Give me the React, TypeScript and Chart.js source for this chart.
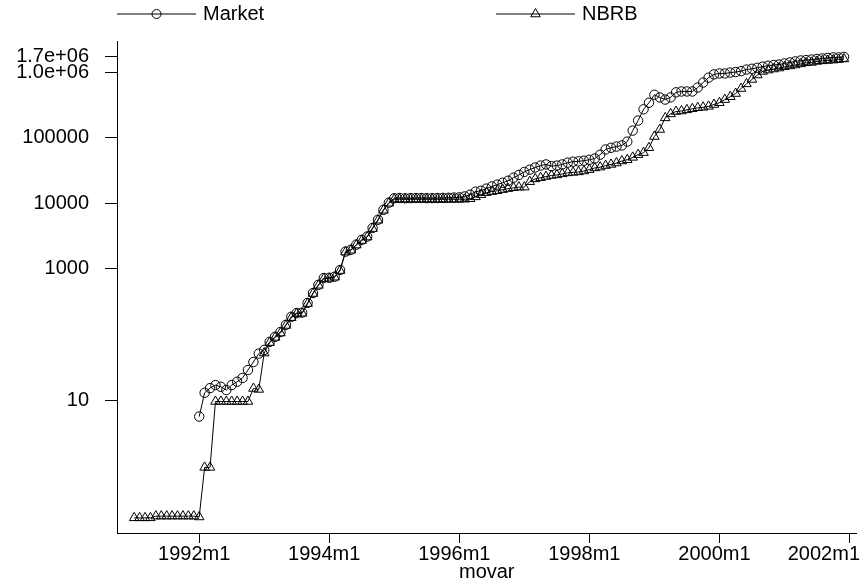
import React, { useEffect, useRef } from 'react';
import { Chart, registerables } from 'chart.js';

Chart.register(...registerables);

// month index 0 = 1991m1, 131 = 2001m12
const START_YEAR = 1991;

const market: (number | null)[] = [
  null, null, null, null, null, null, null, null, null, null, null, null,
  5.6, 12.9, 15.2, 16.9, 15.9, 14.2, 16.9, 19, 21.7, 28.7, 38, 51,
  58, 77, 92, 109, 140, 186, 212, 215, 302, 428, 570, 725,
  730, 760, 960, 1830, 1950, 2340, 2770, 3100, 4200, 5600, 7950, 10200,
  11900, 12000, 11900, 11950, 12000, 12000, 11950, 11950, 12000, 12050, 12100, 12200,
  12300, 12700, 13500, 15000, 15500, 16700, 18000, 19200, 20500, 22000, 24500, 27000,
  30000, 32500, 35000, 37500, 39000, 36700, 37500, 39000, 41500, 43000, 43500, 44500,
  46000, 48000, 55000, 66000, 70000, 73000, 76000, 87000, 128000, 182000, 270000, 340000,
  450000, 410000, 380000, 410000, 490000, 505000, 505000, 505000, 580000, 690000, 820000, 920000,
  950000, 950000, 980000, 1000000, 1030000, 1090000, 1120000, 1160000, 1210000, 1250000, 1280000, 1300000,
  1350000, 1400000, 1450000, 1500000, 1520000, 1550000, 1580000, 1610000, 1640000, 1670000, 1670000, 1700000,
];

const nbrb: number[] = [
  0.16, 0.16, 0.16, 0.16, 0.17, 0.17, 0.17, 0.17, 0.17, 0.17, 0.17, 0.17,
  0.165, 0.94, 0.94, 9.5, 9.5, 9.5, 9.5, 9.5, 9.5, 9.5, 15, 14.5,
  52, 75, 90, 105, 137, 180, 208, 210, 295, 420, 560, 710,
  715, 745, 940, 1800, 1920, 2300, 2700, 3050, 4100, 5500, 7800, 10000,
  11500, 11500, 11500, 11500, 11500, 11500, 11500, 11500, 11500, 11500, 11500, 11500,
  11500, 11500, 11700, 12500, 13500, 14500, 15000, 15500, 16100, 16700, 17200, 17600,
  17600, 21300, 23500, 24500, 25500, 26500, 27000, 28000, 29000, 29500, 30000, 31000,
  32500, 34500, 35500, 37500, 39000, 41000, 44000, 46000, 50000, 55000, 59000, 70000,
  104000, 133000, 200000, 230000, 250000, 255000, 265000, 275000, 285000, 290000, 300000, 320000,
  340000, 380000, 420000, 470000, 560000, 660000, 770000, 900000, 1020000, 1070000, 1110000, 1150000,
  1200000, 1240000, 1280000, 1330000, 1380000, 1400000, 1450000, 1480000, 1500000, 1520000, 1550000, 1580000,
];

const seriesNames = ['Market', 'NBRB'];
const seriesMarkers = ['circle', 'triangle'];
const xTickMonths = [12, 36, 60, 84, 108, 132];
const xTickLabels = ['1992m1', '1994m1', '1996m1', '1998m1', '2000m1', '2002m1'];
const yTickValues = [10, 1000, 10000, 100000, 1000000, 1700000];
const yTickLabels = ['10', '1000', '10000', '100000', '1.0e+06', '1.7e+06'];
const xTitle = 'movar';

const FONT = '"Liberation Sans", Arial, sans-serif';
const W = 863;
const H = 586;

function drawMarker(ctx: CanvasRenderingContext2D, style: string, x: number, y: number, r: number) {
  ctx.beginPath();
  if (style === 'circle') {
    ctx.arc(x, y, r, 0, Math.PI * 2);
  } else {
    ctx.moveTo(x, y - r);
    ctx.lineTo(x + 0.866 * r, y + 0.5 * r);
    ctx.lineTo(x - 0.866 * r, y + 0.5 * r);
    ctx.closePath();
  }
  ctx.stroke();
}

const stataLegend = {
  id: 'stataLegend',
  afterDraw(chart: any) {
    const ctx: CanvasRenderingContext2D = chart.ctx;
    const y = 14;
    const starts = [117, 496];
    ctx.save();
    ctx.strokeStyle = '#000';
    ctx.fillStyle = '#000';
    ctx.lineWidth = 1;
    ctx.font = `20px ${FONT}`;
    ctx.textBaseline = 'middle';
    ctx.textAlign = 'left';
    seriesNames.forEach((name, i) => {
      const x0 = starts[i];
      const len = 79;
      ctx.beginPath();
      ctx.moveTo(x0, y);
      ctx.lineTo(x0 + len, y);
      ctx.stroke();
      drawMarker(ctx, seriesMarkers[i], x0 + len / 2, y, i === 0 ? 4.5 : 5.5);
      ctx.fillText(name, x0 + len + 7, y);
    });
    ctx.restore();
  },
};

const xLabels = {
  id: 'xLabels',
  afterDraw(chart: any) {
    const ctx: CanvasRenderingContext2D = chart.ctx;
    const xs = chart.scales.x;
    ctx.save();
    ctx.fillStyle = '#000';
    ctx.font = `20px ${FONT}`;
    ctx.textBaseline = 'middle';
    ctx.textAlign = 'center';
    xTickMonths.forEach((m, i) => {
      const label = xTickLabels[i];
      const w = ctx.measureText(label).width;
      let cx = xs.getPixelForValue(m) - 5;
      cx = Math.min(cx, W - 3 - w / 2);
      ctx.fillText(label, cx, 554);
    });
    ctx.restore();
  },
};

export default function App() {
  const ref = useRef<HTMLCanvasElement | null>(null);

  useEffect(() => {
    if (!ref.current) return;
    const toPts = (arr: (number | null)[]) => arr.map((v, i) => ({ x: i, y: v }));
    const chart = new Chart(ref.current, {
      type: 'line',
      data: {
        datasets: [
          {
            label: seriesNames[0],
            data: toPts(market) as any,
            borderColor: '#000',
            borderWidth: 1,
            pointStyle: 'circle',
            pointRadius: 4.7,
            pointBorderWidth: 1,
            pointBorderColor: '#000',
            pointBackgroundColor: 'rgba(0,0,0,0)',
            backgroundColor: 'rgba(0,0,0,0)',
            fill: false,
            tension: 0,
            spanGaps: false,
          },
          {
            label: seriesNames[1],
            data: toPts(nbrb) as any,
            borderColor: '#000',
            borderWidth: 1,
            pointStyle: 'triangle',
            pointRadius: 5.5,
            pointBorderWidth: 1,
            pointBorderColor: '#000',
            pointBackgroundColor: 'rgba(0,0,0,0)',
            backgroundColor: 'rgba(0,0,0,0)',
            fill: false,
            tension: 0,
          },
        ],
      },
      options: {
        responsive: false,
        animation: false,
        events: [],
        layout: { padding: { top: 41, left: 0, right: 0, bottom: 0 } },
        plugins: {
          legend: { display: false },
          tooltip: { enabled: false },
        },
        scales: {
          x: {
            type: 'linear',
            min: -3.17,
            max: 133.3,
            bounds: 'data',
            grid: {
              display: true,
              drawOnChartArea: false,
              drawTicks: true,
              tickLength: 10,
              color: '#000',
              lineWidth: 1,
            },
            border: { display: true, color: '#000', width: 1 },
            ticks: { display: false, autoSkip: false },
            title: {
              display: true,
              text: xTitle,
              color: '#000',
              font: { family: FONT, size: 20 },
              padding: { top: 0, bottom: 2 },
            },
            afterBuildTicks: (scale: any) => {
              scale.ticks = xTickMonths.map((v) => ({ value: v }));
            },
            afterFit: (scale: any) => {
              scale.height = 53;
              scale.paddingLeft = 0;
              scale.paddingRight = 0;
            },
          },
          y: {
            type: 'logarithmic',
            min: 0.094,
            max: 2.97e6,
            bounds: 'data',
            grid: {
              display: true,
              drawOnChartArea: false,
              drawTicks: true,
              tickLength: 12,
              color: '#000',
              lineWidth: 1,
            },
            border: { display: true, color: '#000', width: 1 },
            ticks: {
              autoSkip: false,
              color: '#000',
              padding: 16,
              font: { family: FONT, size: 20 },
              callback: (_v: any, i: number) => yTickLabels[i],
            },
            afterBuildTicks: (scale: any) => {
              scale.ticks = yTickValues.map((v) => ({ value: v }));
            },
            afterFit: (scale: any) => {
              scale.width = 117;
              scale.paddingTop = 0;
              scale.paddingBottom = 0;
            },
          },
        },
      },
      plugins: [stataLegend, xLabels],
    });
    return () => chart.destroy();
  }, []);

  return (
    <div style={{ position: 'fixed', left: 0, top: 0, width: W, height: H, background: '#fff' }}>
      <canvas ref={ref} width={W} height={H} style={{ display: 'block', width: W, height: H }} />
    </div>
  );
}
